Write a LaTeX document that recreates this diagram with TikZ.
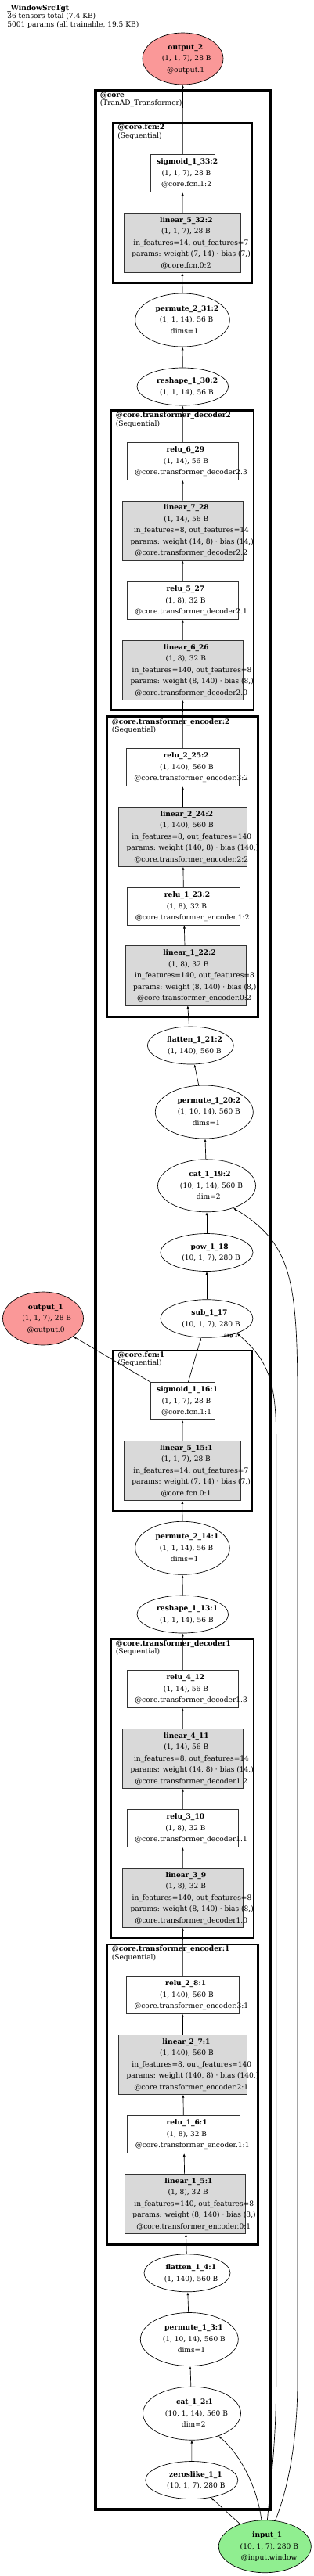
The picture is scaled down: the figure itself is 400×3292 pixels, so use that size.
\documentclass[tikz,border=0pt]{standalone}
\usepackage{fontspec}
\setmainfont{DejaVu Serif}
\usepackage{tikz}
\usetikzlibrary{arrows.meta, shapes.geometric}
\definecolor{outfill}{RGB}{250, 152, 152}
\definecolor{infill}{RGB}{144, 238, 144}
\definecolor{modfill}{RGB}{217, 217, 217}
\newdimen\pxu \pxu=0.75pt
% one text line, pushed right a little as the renderer does
\newcommand{\gl}[1]{\makebox[1.15\width][r]{#1}}
\newcommand{\nt}[1]{\makebox[0pt]{\begin{tabular}{@{}c@{}}#1\end{tabular}}}

\begin{document}
\begin{tikzpicture}[x=0.75pt, y=-0.75pt, font=\fontsize{6.8}{10.9}\selectfont,
  edge/.style={-{Latex[length=3pt, width=2.3pt]}, line width=0.5pt},
  wh/.style 2 args={minimum width=#1\pxu, minimum height=#2\pxu},
  opnode/.style={ellipse, draw, line width=0.5pt, inner sep=0pt, fill=white},
  modnode/.style={rectangle, draw=black!80, line width=0.6pt, inner sep=0pt, fill=modfill},
  actnode/.style={rectangle, draw=black!80, line width=0.6pt, inner sep=0pt, fill=white},
  cluster/.style={draw, line width=2.2pt},
  clabel/.style={anchor=north west, inner sep=0pt, align=left, font=\fontsize{6.8}{7.9}\selectfont}]
  \useasboundingbox (0,0) rectangle (400,3292);

  \node[clabel] (title) at (9,6) {\textbf{\_WindowSrcTgt}\\36 tensors total (7.4 KB)\\5001 params (all trainable, 19.5 KB)};

  % Draw the module clusters
  \draw[line width=3pt] (122,115.5) rectangle (344.5,3206.5);
  \draw[cluster] (144.5,157) rectangle (322,362);
  \draw[cluster] (142,524.5) rectangle (324,907);
  \draw[cluster] (136.5,915.5) rectangle (329.5,1299.5);
  \draw[cluster] (144.5,1726) rectangle (322,1931);
  \draw[cluster] (142,2094.5) rectangle (324,2476.5);
  \draw[cluster] (136.5,2485) rectangle (329.5,2868);

  \node[clabel] (corelbl) at (127.5,117.5) {\textbf{@core}\\(TranAD\_Transformer)};
  \node[clabel] (fcnlbl2) at (150,158.5) {\textbf{@core.fcn:2}\\(Sequential)};
  \node[clabel] (declbl2) at (147.5,526.5) {\textbf{@core.transformer\_decoder2}\\(Sequential)};
  \node[clabel] (enclbl2) at (142.5,918) {\textbf{@core.transformer\_encoder:2}\\(Sequential)};
  \node[clabel] (fcnlbl1) at (150,1727) {\textbf{@core.fcn:1}\\(Sequential)};
  \node[clabel] (declbl1) at (147.5,2096) {\textbf{@core.transformer\_decoder1}\\(Sequential)};
  \node[clabel] (enclbl1) at (142.5,2486.5) {\textbf{@core.transformer\_encoder:1}\\(Sequential)};

  % Second pass (top half)
  \node[opnode, wh={103}{66}, fill=outfill] (out2) at (233.5,75) {\nt{\gl{\textbf{output\_2}}\\ \gl{(1, 1, 7), 28 B}\\ \gl{@output.1}}};
  \node[actnode, wh={82}{48}] (sig33) at (233.3,221.5) {\nt{\gl{\textbf{sigmoid\_1\_33:2}}\\ \gl{(1, 1, 7), 28 B}\\ \gl{@core.fcn.1:2}}};
  \node[modnode, wh={149}{76}] (lin32) at (232.8,310.5) {\nt{\gl{\textbf{linear\_5\_32:2}}\\ \gl{(1, 1, 7), 28 B}\\ \gl{in\_features=14, out\_features=7}\\ \gl{params: weight (7, 14) · bias (7,)}\\ \gl{@core.fcn.0:2}}};
  \node[opnode, wh={120.6}{68}] (perm31) at (233,409) {\nt{\gl{\textbf{permute\_2\_31:2}}\\ \gl{(1, 1, 14), 56 B}\\ \gl{dims=1}}};
  \node[opnode, wh={116.7}{48}] (resh30) at (233.3,494) {\nt{\gl{\textbf{reshape\_1\_30:2}}\\ \gl{(1, 1, 14), 56 B}}};
  \node[actnode, wh={141.7}{48}] (relu29) at (233.2,589.2) {\nt{\gl{\textbf{relu\_6\_29}}\\ \gl{(1, 14), 56 B}\\ \gl{@core.transformer\_decoder2.3}}};
  \node[modnode, wh={154.4}{76}] (lin28) at (233.5,678) {\nt{\gl{\textbf{linear\_7\_28}}\\ \gl{(1, 14), 56 B}\\ \gl{in\_features=8, out\_features=14}\\ \gl{params: weight (14, 8) · bias (14,)}\\ \gl{@core.transformer\_decoder2.2}}};
  \node[actnode, wh={141.7}{48}] (relu27) at (233.2,767.3) {\nt{\gl{\textbf{relu\_5\_27}}\\ \gl{(1, 8), 32 B}\\ \gl{@core.transformer\_decoder2.1}}};
  \node[modnode, wh={154.4}{76}] (lin26) at (233.5,856.3) {\nt{\gl{\textbf{linear\_6\_26}}\\ \gl{(1, 8), 32 B}\\ \gl{in\_features=140, out\_features=8}\\ \gl{params: weight (8, 140) · bias (8,)}\\ \gl{@core.transformer\_decoder2.0}}};
  \node[actnode, wh={144}{48}] (relu25) at (233.3,980.5) {\nt{\gl{\textbf{relu\_2\_25:2}}\\ \gl{(1, 140), 560 B}\\ \gl{@core.transformer\_encoder.3:2}}};
  \node[modnode, wh={164.7}{76}] (lin24) at (233.3,1069.3) {\nt{\gl{\textbf{linear\_2\_24:2}}\\ \gl{(1, 140), 560 B}\\ \gl{in\_features=8, out\_features=140}\\ \gl{params: weight (140, 8) · bias (140,)}\\ \gl{@core.transformer\_encoder.2:2}}};
  \node[actnode, wh={144}{48}] (relu23) at (234.7,1158.2) {\nt{\gl{\textbf{relu\_1\_23:2}}\\ \gl{(1, 8), 32 B}\\ \gl{@core.transformer\_encoder.1:2}}};
  \node[modnode, wh={154}{76}] (lin22) at (237,1246.8) {\nt{\gl{\textbf{linear\_1\_22:2}}\\ \gl{(1, 8), 32 B}\\ \gl{in\_features=140, out\_features=8}\\ \gl{params: weight (8, 140) · bias (8,)}\\ \gl{@core.transformer\_encoder.0:2}}};
  \node[opnode, wh={110}{48}] (flat21) at (243.3,1336) {\nt{\gl{\textbf{flatten\_1\_21:2}}\\ \gl{(1, 140), 560 B}}};
  \node[opnode, wh={125}{68}] (perm20) at (260.8,1421) {\nt{\gl{\textbf{permute\_1\_20:2}}\\ \gl{(1, 10, 14), 560 B}\\ \gl{dims=1}}};
  \node[opnode, wh={125}{67}] (cat19) at (264,1515.3) {\nt{\gl{\textbf{cat\_1\_19:2}}\\ \gl{(10, 1, 14), 560 B}\\ \gl{dim=2}}};
  \node[opnode, wh={118}{48}] (pow18) at (264,1600.5) {\nt{\gl{\textbf{pow\_1\_18}}\\ \gl{(10, 1, 7), 280 B}}};
  \node[opnode, wh={118}{48.6}] (sub17) at (264,1685) {\nt{\gl{\textbf{sub\_1\_17}}\\ \gl{(10, 1, 7), 280 B}}};
  \node[opnode, wh={103}{68}, fill=outfill] (out1) at (55,1685) {\nt{\gl{\textbf{output\_1}}\\ \gl{(1, 1, 7), 28 B}\\ \gl{@output.0}}};

  % First pass (bottom half)
  \node[actnode, wh={82}{48}] (sig16) at (233.3,1790.5) {\nt{\gl{\textbf{sigmoid\_1\_16:1}}\\ \gl{(1, 1, 7), 28 B}\\ \gl{@core.fcn.1:1}}};
  \node[modnode, wh={149}{76}] (lin15) at (232.8,1879.5) {\nt{\gl{\textbf{linear\_5\_15:1}}\\ \gl{(1, 1, 7), 28 B}\\ \gl{in\_features=14, out\_features=7}\\ \gl{params: weight (7, 14) · bias (7,)}\\ \gl{@core.fcn.0:1}}};
  \node[opnode, wh={120.6}{68}] (perm14) at (233,1978.3) {\nt{\gl{\textbf{permute\_2\_14:1}}\\ \gl{(1, 1, 14), 56 B}\\ \gl{dims=1}}};
  \node[opnode, wh={116.7}{48}] (resh13) at (233.3,2063) {\nt{\gl{\textbf{reshape\_1\_13:1}}\\ \gl{(1, 1, 14), 56 B}}};
  \node[actnode, wh={141.7}{48}] (relu12) at (233.2,2158.3) {\nt{\gl{\textbf{relu\_4\_12}}\\ \gl{(1, 14), 56 B}\\ \gl{@core.transformer\_decoder1.3}}};
  \node[modnode, wh={154.4}{76}] (lin11) at (233.5,2247.3) {\nt{\gl{\textbf{linear\_4\_11}}\\ \gl{(1, 14), 56 B}\\ \gl{in\_features=8, out\_features=14}\\ \gl{params: weight (14, 8) · bias (14,)}\\ \gl{@core.transformer\_decoder1.2}}};
  \node[actnode, wh={141.7}{48}] (relu10) at (233.2,2336.3) {\nt{\gl{\textbf{relu\_3\_10}}\\ \gl{(1, 8), 32 B}\\ \gl{@core.transformer\_decoder1.1}}};
  \node[modnode, wh={154.4}{76}] (lin9) at (233.5,2425.2) {\nt{\gl{\textbf{linear\_3\_9}}\\ \gl{(1, 8), 32 B}\\ \gl{in\_features=140, out\_features=8}\\ \gl{params: weight (8, 140) · bias (8,)}\\ \gl{@core.transformer\_decoder1.0}}};
  \node[actnode, wh={144}{48}] (relu8) at (233.3,2549.3) {\nt{\gl{\textbf{relu\_2\_8:1}}\\ \gl{(1, 140), 560 B}\\ \gl{@core.transformer\_encoder.3:1}}};
  \node[modnode, wh={164.7}{76}] (lin7) at (233.3,2638.3) {\nt{\gl{\textbf{linear\_2\_7:1}}\\ \gl{(1, 140), 560 B}\\ \gl{in\_features=8, out\_features=140}\\ \gl{params: weight (140, 8) · bias (140,)}\\ \gl{@core.transformer\_encoder.2:1}}};
  \node[actnode, wh={144}{48}] (relu6) at (234.7,2727.5) {\nt{\gl{\textbf{relu\_1\_6:1}}\\ \gl{(1, 8), 32 B}\\ \gl{@core.transformer\_encoder.1:1}}};
  \node[modnode, wh={154}{76}] (lin5) at (236.3,2816.3) {\nt{\gl{\textbf{linear\_1\_5:1}}\\ \gl{(1, 8), 32 B}\\ \gl{in\_features=140, out\_features=8}\\ \gl{params: weight (8, 140) · bias (8,)}\\ \gl{@core.transformer\_encoder.0:1}}};
  \node[opnode, wh={110}{48}] (flat4) at (239,2904.8) {\nt{\gl{\textbf{flatten\_1\_4:1}}\\ \gl{(1, 140), 560 B}}};
  \node[opnode, wh={125}{68}] (perm3) at (241.8,2989.5) {\nt{\gl{\textbf{permute\_1\_3:1}}\\ \gl{(1, 10, 14), 560 B}\\ \gl{dims=1}}};
  \node[opnode, wh={125}{68}] (cat2) at (245,3084.2) {\nt{\gl{\textbf{cat\_1\_2:1}}\\ \gl{(10, 1, 14), 560 B}\\ \gl{dim=2}}};
  \node[opnode, wh={118}{48}] (zeros1) at (244.8,3169.5) {\nt{\gl{\textbf{zeroslike\_1\_1}}\\ \gl{(10, 1, 7), 280 B}}};
  \node[opnode, wh={118}{67}, fill=infill] (in1) at (338.3,3254.2) {\nt{\gl{\textbf{input\_1}}\\ \gl{(10, 1, 7), 280 B}\\ \gl{@input.window}}};

  % Edges
  \foreach \a/\b in {in1/zeros1, zeros1/cat2, cat2/perm3, perm3/flat4, flat4/lin5, lin5/relu6,
      relu6/lin7, lin7/relu8, relu8/lin9, lin9/relu10, relu10/lin11, lin11/relu12, relu12/resh13,
      resh13/perm14, perm14/lin15, lin15/sig16, sig16/sub17, sig16/out1, sub17/pow18, pow18/cat19,
      cat19/perm20, perm20/flat21, flat21/lin22, lin22/relu23, relu23/lin24, lin24/relu25,
      relu25/lin26, lin26/relu27, relu27/lin28, lin28/relu29, relu29/resh30, resh30/perm31,
      perm31/lin32, lin32/sig33, sig33/out2}
    \draw[edge] (\a) -- (\b);

  \draw[edge] (in1) .. controls (328,3175) and (305,3135) .. (cat2);
  \draw[edge] (in1) .. controls (346,3170) and (352.7,3120) .. (352.7,3040)
    -- (352.7,1840) .. controls (352.7,1770) and (345,1740) .. (sub17.-26);
  \draw[edge] (in1) .. controls (368,3180) and (380,3120) .. (380,3040)
    -- (380,1800) .. controls (380,1640) and (375,1590) .. (cat19.-40);
  \node[inner sep=0pt, font=\fontsize{4.5}{5}\selectfont\bfseries] (arg1) at (295,1707) {arg 1};
\end{tikzpicture}
\end{document}
